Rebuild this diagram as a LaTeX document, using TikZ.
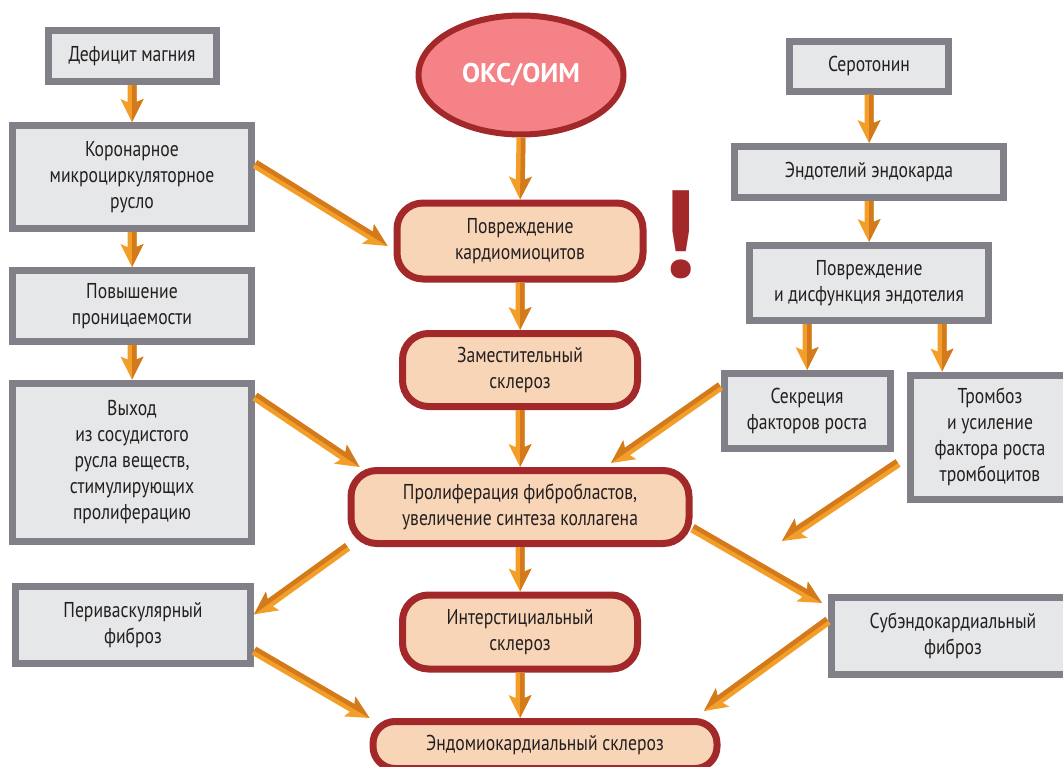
\documentclass[tikz,border=0pt]{standalone}
\usepackage{fontspec}
\setmainfont{PT Sans}[FakeStretch=0.82]
\newfontfamily\widefont{PT Sans}
\usepackage{tikz}
\usetikzlibrary{calc}
\usetikzlibrary{shapes.geometric}

\definecolor{boxgray}{RGB}{129,128,137}
\definecolor{boxfill}{RGB}{230,231,232}
\definecolor{darkred}{RGB}{163,40,42}
\definecolor{peach}{RGB}{248,213,183}
\definecolor{pinkfill}{RGB}{244,130,135}
\definecolor{orlight}{RGB}{243,158,40}
\definecolor{ordark}{RGB}{210,122,28}
\definecolor{txt}{RGB}{35,31,32}

% two-tone arrow: [dark side] {from} {to}
\newcommand\fatarrow[3][90]{%
  \coordinate (fa-b) at ($(#3)!20pt!(#2)$);
  \coordinate (fa-c) at ($(#3)!23pt!(#2)$);
  \fill[orlight] ($(#2)!4.5pt!90:(#3)$) -- ($(fa-b)!4.5pt!90:(#3)$) -- ($(fa-c)!11.5pt!90:(#3)$) -- (#3)
    -- ($(fa-c)!11.5pt!-90:(#3)$) -- ($(fa-b)!4.5pt!-90:(#3)$) -- ($(#2)!4.5pt!-90:(#3)$) -- cycle;
  \fill[ordark] (#2) -- ($(#2)!4.5pt!#1:(#3)$) -- ($(fa-b)!4.5pt!#1:(#3)$) -- ($(fa-c)!11.5pt!#1:(#3)$) -- (#3) -- cycle;
}

\begin{document}
\begin{tikzpicture}[x=1pt,y=-1pt,
    graybox/.style={draw=boxgray,fill=boxfill,line width=7pt,inner sep=0pt,align=center,
      text=txt,font=\fontsize{21.5}{26}\selectfont},
    redbox/.style={draw=darkred,fill=peach,line width=7pt,rounded corners=26pt,inner sep=0pt,
      align=center,text=txt,font=\fontsize{21.5}{26}\selectfont},
    wh/.style 2 args={minimum width=#1pt,minimum height=#2pt}]
  \useasboundingbox (0,0) rectangle (1063,766);
  %
  \node[graybox,wh={168}{51}] (def) at (132,56) {Дефицит магния};
  \node[graybox,wh={239}{103}] (kor) at (132,177) {Коронарное\\микроциркуляторное\\русло};
  \node[graybox,wh={239}{71}] (perm) at (132,306) {Повышение\\проницаемости};
  \node[graybox,wh={239}{158}] (vyh) at (132,462) {Выход\\из сосудистого\\русла веществ,\\стимулирующих\\пролиферацию};
  \node[graybox,wh={235}{77}] (peri) at (133,625) {Периваскулярный\\фиброз};
  %
  \node[ellipse,draw=darkred,fill=pinkfill,line width=6pt,inner sep=0pt,wh={205}{119},
    text=white,font=\widefont\bfseries\fontsize{27}{30}\selectfont] (okc) at (521,75) {ОКС/ОИМ};
  \node[redbox,wh={246}{76}] (pov) at (520,241) {Повреждение\\кардиомиоцитов};
  \node[redbox,wh={235}{73}] (zam) at (520,370) {Заместительный\\склероз};
  \node[redbox,wh={338}{73}] (prol) at (520,507) {Пролиферация фибробластов,\\увеличение синтеза коллагена};
  \node[redbox,wh={235}{74}] (inter) at (520,632) {Интерстициальный\\склероз};
  \node[redbox,rounded corners=22pt,wh={344}{47}] (endo) at (545,745) {Эндомиокардиальный склероз};
  \node[text=darkred,font=\widefont\bfseries\fontsize{124}{124}\selectfont] (excl) at (679,235) {!};
  %
  \node[graybox,wh={159}{50}] (ser) at (869,66) {Серотонин};
  \node[graybox,wh={269}{51}] (endk) at (869,172) {Эндотелий эндокарда};
  \node[graybox,wh={239}{75}] (povend) at (869,283) {Повреждение\\и дисфункция эндотелия};
  \node[graybox,wh={166}{75}] (sekr) at (807,411) {Секреция\\факторов роста};
  \node[graybox,wh={159}{124}] (tromb) at (990,437) {Тромбоз\\и усиление\\фактора роста\\тромбоцитов};
  \node[graybox,wh={243}{77}] (subendo) at (953,636) {Субэндокардиальный\\фиброз};
  %
  % left column
  \fatarrow{def.south}{kor.north}
  \fatarrow{kor.south}{perm.north}
  \fatarrow{perm.south}{vyh.north}
  \coordinate (kp) at ([xshift=-6pt,yshift=-5pt]pov.west);
  \fatarrow{kor.6}{kp}
  \fatarrow{vyh.28}{prol.166}
  \fatarrow[-90]{prol.193}{peri.5}
  \fatarrow{peri.-12}{endo.north west}
  %
  % centre
  \fatarrow{okc.south}{pov.north}
  \fatarrow{pov.south}{zam.north}
  \fatarrow{zam.south}{prol.north}
  \fatarrow{prol.south}{inter.north}
  \coordinate (ie) at (inter.south |- endo.north);
  \fatarrow{inter.south}{ie}
  %
  % right column
  \fatarrow{ser.south}{endk.north}
  \fatarrow{endk.south}{povend.north}
  \coordinate (pe1) at (sekr.north |- povend.south);
  \fatarrow{pe1}{sekr.north}
  \coordinate (pe2) at ([xshift=73pt]povend.south);
  \coordinate (tr) at (pe2 |- tromb.north);
  \fatarrow{pe2}{tr}
  \coordinate (sp) at (611,463);
  \fatarrow[-90]{sekr.164}{sp}
  \coordinate (t1) at (898,463);
  \coordinate (t2) at (782,541);
  \fatarrow[-90]{t1}{t2}
  \coordinate (sb) at (822,603);
  \fatarrow{prol.-7}{sb}
  \coordinate (se) at (704,711);
  \fatarrow[-90]{subendo.173}{se}
\end{tikzpicture}
\end{document}
